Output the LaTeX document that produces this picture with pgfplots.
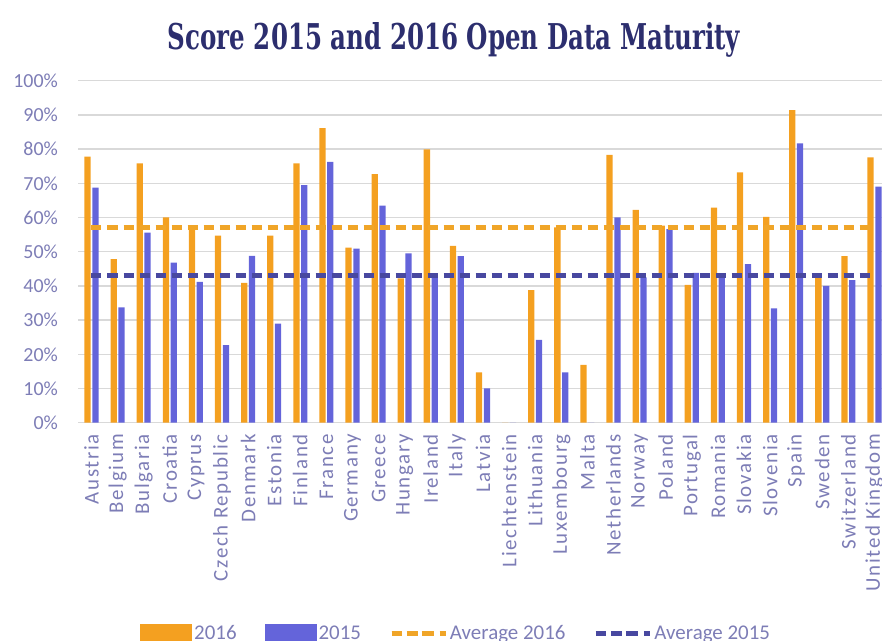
\documentclass[border=0pt]{standalone}
\usepackage{pgfplots}
\usepackage{pgfplotstable}
\usepackage{graphicx}
\pgfplotsset{compat=1.18}
\usepackage{fontspec}
\setmainfont{Carlito}
\newfontfamily\titlefont{DejaVu Serif}
\definecolor{orng}{RGB}{244,160,32}
\definecolor{blu}{RGB}{100,100,218}
\definecolor{avgbl}{RGB}{72,72,160}
\definecolor{avgor}{RGB}{240,165,40}
\definecolor{txt}{RGB}{125,125,182}
\definecolor{ttl}{RGB}{44,46,110}
\definecolor{gridc}{RGB}{217,217,217}

\pgfplotstableread{
x y16 y15
0 77.8 68.7
1 47.8 33.7
2 75.8 55.6
3 60.0 46.8
4 57.6 41.2
5 54.7 22.7
6 40.9 48.8
7 54.7 29.0
8 75.8 69.5
9 86.1 76.3
10 51.2 50.9
11 72.7 63.5
12 42.2 49.5
13 79.9 42.5
14 51.7 48.7
15 14.7 10.0
16 0 0
17 38.8 24.2
18 57.1 14.7
19 16.9 0
20 78.3 60.0
21 62.2 42.5
22 57.6 56.6
23 40.3 43.8
24 62.9 43.7
25 73.2 46.4
26 60.2 33.4
27 91.4 81.7
28 42.5 40.0
29 48.7 41.7
30 77.6 69.0
}\data

\begin{document}
\begin{tikzpicture}
\begin{axis}[
  at={(78.45bp,218.3bp)}, anchor=south west,
  scale only axis, width=803.6bp, height=342bp,
  xmin=-0.5, xmax=30.29, ymin=0, ymax=100,
  xtick={0,...,30},
  xticklabels={Austria,Belgium,Bulgaria,Croatia,Cyprus,Czech Republic,Denmark,Estonia,Finland,France,Germany,Greece,Hungary,Ireland,Italy,Latvia,Liechtenstein,Lithuania,Luxembourg,Malta,Netherlands,Norway,Poland,Portugal,Romania,Slovakia,Slovenia,Spain,Sweden,Switzerland,United Kingdom},
  ytick={0,10,...,100},
  yticklabels={0\%,10\%,20\%,30\%,40\%,50\%,60\%,70\%,80\%,90\%,100\%},
  axis line style={draw=none}, tick style={draw=none},
  ymajorgrids, major grid style={gridc, line width=1.4bp},
  y tick label style={font=\fontsize{20}{24}\selectfont, text=txt, xshift=-17bp},
  x tick label style={font=\fontsize{21}{24}\selectfont\addfontfeature{LetterSpace=8}, text=txt, rotate=90, anchor=east, xshift=-8bp},
  legend style={at={(axis description cs:0.0766,-0.615)}, anchor=west, legend columns=4, draw=none, fill=none, inner sep=0pt,
    font=\fontsize{21}{24}\selectfont, text=txt,
    /tikz/every even column/.append style={column sep=26bp}},
  legend cell align=left,
]
\addplot[ybar, bar width=0.24, bar shift=-0.15, fill=orng, draw=none,
  legend image code/.code={\fill[orng] (0bp,-9bp) rectangle (52bp,9bp);}]
  table[x=x,y=y16]{\data};
\addplot[ybar, bar width=0.24, bar shift=0.15, fill=blu, draw=none,
  legend image code/.code={\fill[blu] (0bp,-9bp) rectangle (52bp,9bp);}]
  table[x=x,y=y15]{\data};
\addplot[avgor, line width=5bp, dash pattern=on 10bp off 6bp,
  legend image code/.code={\draw[avgor, line width=5bp, dash pattern=on 10bp off 5bp] (0bp,0bp) -- (40bp,0bp); \path (0bp,0bp) -- (54bp,0bp);}]
  coordinates {(0,57.0) (30,57.0)};
\addplot[avgbl, line width=5bp, dash pattern=on 10bp off 6bp,
  legend image code/.code={\draw[avgbl, line width=5bp, dash pattern=on 10bp off 5bp] (0bp,0bp) -- (40bp,0bp); \path (0bp,0bp) -- (54bp,0bp);}]
  coordinates {(0,42.9) (30,42.9)};
\legend{2016,2015,Average 2016,Average 2015}
\end{axis}
\node[anchor=base, inner sep=0pt, text=ttl] at (454bp,591bp)
  {\resizebox{572bp}{27bp}{\titlefont\bfseries Score 2015 and 2016 Open Data Maturity}};
\pgfresetboundingbox
\path[use as bounding box] (0,0) rectangle (882bp,641bp);
\end{tikzpicture}
\end{document}
